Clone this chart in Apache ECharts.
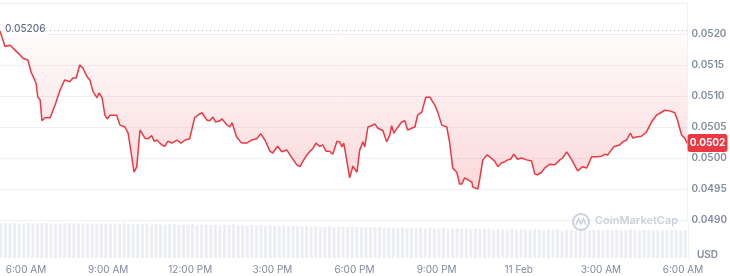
<!DOCTYPE html>
<html><head><meta charset="utf-8">
<script src="https://cdn.jsdelivr.net/npm/echarts@6/dist/echarts.min.js"></script>
<style>html,body{margin:0;padding:0;background:#fff}#c{width:730px;height:276px}</style>
</head><body><div id="c"></div>
<script>
// minutes since 00:00 on 10 Feb
const minutes = [303,314,325,336,347,353,364,371,375,382,386,391,395,402,413,424,435,445,456,463,470,478,485,494,500,507,516,520,527,533,538,544,559,566,577,584,592,597,603,610,614,621,627,636,641,647,658,665,671,680,691,700,709,719,730,737,746,750,757,763,770,776,785,790,801,807,812,822,833,844,855,866,875,884,895,901,912,921,932,939,954,961,967,976,983,989,996,1004,1011,1018,1026,1033,1042,1048,1053,1057,1064,1070,1077,1081,1086,1092,1099,1103,1110,1118,1125,1132,1143,1147,1151,1158,1162,1167,1171,1175,1184,1191,1197,1206,1213,1219,1228,1237,1246,1257,1263,1272,1283,1289,1296,1305,1311,1316,1322,1329,1338,1340,1351,1355,1362,1371,1377,1388,1395,1403,1410,1417,1423,1430,1438,1447,1458,1469,1476,1482,1491,1498,1509,1520,1531,1537,1546,1557,1563,1570,1581,1590,1601,1612,1623,1629,1636,1649,1662,1669,1677,1686,1691,1699,1710,1721,1732,1743,1752,1761,1772,1783,1789,1798,1805,1810];
const prices = [0.05205,0.05180,0.05182,0.05174,0.05166,0.05161,0.05158,0.05139,0.05137,0.05121,0.05098,0.05094,0.05060,0.05065,0.05065,0.05086,0.05110,0.05126,0.05123,0.05129,0.05129,0.05150,0.05145,0.05131,0.05126,0.05107,0.05097,0.05105,0.05097,0.05069,0.05063,0.05069,0.05069,0.05053,0.05050,0.05040,0.05002,0.04977,0.04986,0.05045,0.05047,0.05032,0.05031,0.05036,0.05027,0.05029,0.05021,0.05019,0.05027,0.05024,0.05029,0.05024,0.05029,0.05031,0.05065,0.05069,0.05073,0.05076,0.05061,0.05060,0.05066,0.05058,0.05060,0.05063,0.05053,0.05050,0.05057,0.05034,0.05024,0.05024,0.05029,0.05031,0.05039,0.05029,0.05011,0.05008,0.05019,0.05010,0.05013,0.05005,0.04989,0.04986,0.04994,0.05005,0.05011,0.05015,0.05024,0.05019,0.05021,0.05011,0.05011,0.05006,0.05027,0.05026,0.05018,0.05024,0.04994,0.04968,0.04987,0.04990,0.04977,0.05013,0.05026,0.05018,0.05050,0.05052,0.05055,0.05048,0.05044,0.05042,0.05026,0.05037,0.05052,0.05040,0.05045,0.05045,0.05058,0.05060,0.05045,0.05048,0.05050,0.05069,0.05074,0.05098,0.05098,0.05085,0.05074,0.05053,0.05050,0.05026,0.04984,0.04977,0.04958,0.04958,0.04968,0.04965,0.04961,0.04953,0.04950,0.04965,0.04997,0.05005,0.05002,0.04995,0.04986,0.04992,0.04994,0.04997,0.04998,0.05006,0.04998,0.05000,0.04997,0.04995,0.04974,0.04973,0.04977,0.04984,0.04990,0.04989,0.04997,0.05000,0.05010,0.04997,0.04989,0.04979,0.04986,0.04984,0.05002,0.05002,0.05003,0.05006,0.05005,0.05018,0.05021,0.05026,0.05029,0.05040,0.05032,0.05034,0.05035,0.05042,0.05058,0.05069,0.05073,0.05077,0.05076,0.05073,0.05061,0.05037,0.05032,0.05024];
const highValue = 0.05206;
const xTickMinutes = [360,540,720,900,1080,1260,1440,1620,1800];
const xTickLabels = ['6:00 AM','9:00 AM','12:00 PM','3:00 PM','6:00 PM','9:00 PM','11 Feb','3:00 AM','6:00 AM'];
const volumeStart = 305, volumeStep = 10;
const volumes = [99,100,98,100,99,97,100,99,98,99,100,98,97,99,98,100,99,98,97,99,98,97,99,98,96,98,97,99,97,96,
97,96,98,95,97,96,95,97,96,94,96,95,97,94,95,96,94,95,93,95,94,96,93,94,92,94,93,95,92,93,
92,91,93,90,92,91,90,92,89,91,90,89,91,88,90,89,88,90,89,87,89,88,87,89,86,88,87,86,88,85,
86,85,87,84,86,85,84,86,83,85,84,83,85,82,84,83,82,84,81,83,82,81,83,80,82,81,80,82,81,80,
81,80,82,79,81,80,79,81,80,79,81,80,78,80,79,80,78,79,81,79,78,80,79,78,80,79,78,79,80,78,79];

const lastPrice = prices[prices.length - 1];
const chart = echarts.init(document.getElementById('c'), null, {renderer: 'canvas'});
const labelColor = '#808a9d';
const gridColor = '#eff2f5';
const font = 'Inter, "Noto Sans", sans-serif';
const priceData = minutes.map((t, i) => [t, prices[i]]);

chart.setOption({
  animation: false,
  grid: [
    {left: 0, top: 3, width: 688, height: 217},
    {left: 0, top: 223, width: 688, height: 35}
  ],
  xAxis: [
    {gridIndex: 0, type: 'value', min: 303, max: 1811, show: false},
    {gridIndex: 1, type: 'value', min: 303, max: 1811,
     axisLine: {show: false}, axisTick: {show: false}, splitLine: {show: false},
     axisLabel: {customValues: xTickMinutes, margin: 7, color: labelColor, fontSize: 10, fontFamily: font,
       formatter: v => { const i = xTickMinutes.indexOf(Math.round(v)); return i >= 0 ? xTickLabels[i] : ''; }}}
  ],
  yAxis: [
    {gridIndex: 0, type: 'value', position: 'right', min: 0.0490, max: 0.0525, interval: 0.0005,
     axisLine: {show: true, lineStyle: {color: gridColor}}, axisTick: {show: false},
     splitLine: {lineStyle: {color: gridColor}},
     axisLabel: {margin: 4, color: labelColor, fontSize: 10, fontWeight: 600, fontFamily: font,
       formatter: v => v > 0.05201 ? '' : v.toFixed(4)}},
    {gridIndex: 1, type: 'value', position: 'right', min: 0, max: 100,
     axisLine: {show: true, lineStyle: {color: gridColor}}, axisTick: {show: false},
     axisLabel: {show: false}, splitLine: {show: false}}
  ],
  series: [
    {type: 'line', name: 'fill', xAxisIndex: 0, yAxisIndex: 0, z: 2, silent: true,
     data: priceData, symbol: 'none',
     lineStyle: {opacity: 0, width: 0},
     areaStyle: {origin: highValue, color: new echarts.graphic.LinearGradient(0, 0, 0, 1, [
       {offset: 0, color: 'rgba(234,57,67,0.02)'},
       {offset: 1, color: 'rgba(234,57,67,0.28)'}])}},
    {type: 'line', name: 'price', xAxisIndex: 0, yAxisIndex: 0, z: 4,
     data: priceData, symbol: 'none', smooth: false,
     lineStyle: {color: '#ea3943', width: 1.5}},
    {type: 'bar', name: 'volume', xAxisIndex: 1, yAxisIndex: 1, silent: true,
     data: volumes.map((v, i) => [volumeStart + i * volumeStep, v]),
     barWidth: 3, itemStyle: {color: '#eceef2'}}
  ]
});

const hy = chart.convertToPixel({yAxisIndex: 0}, highValue);
const py = chart.convertToPixel({yAxisIndex: 0}, lastPrice);
const rightX = chart.convertToPixel({xAxisIndex: 0}, 1811);
chart.setOption({
  graphic: [
    {type: 'line', shape: {x1: 38, y1: Math.round(hy) + 0.5, x2: rightX, y2: Math.round(hy) + 0.5}, z: 5, silent: true,
      style: {stroke: '#a7b1c2', lineWidth: 1, lineDash: [1, 3]}},
    {type: 'text', left: 3, top: hy - 7, z: 10, style: {text: highValue.toFixed(5), fill: '#616e85',
      font: '500 10px ' + font, backgroundColor: '#fff', padding: [1, 2]}},
    {type: 'rect', shape: {x: rightX, y: py - 9, width: 40, height: 18, r: 3}, z: 10,
      style: {fill: '#ea3943'}},
    {type: 'text', x: rightX + 20, y: py, z: 11, style: {text: lastPrice.toFixed(4), fill: '#fff',
      font: 'bold 10px ' + font, align: 'center', verticalAlign: 'middle'}},
    {type: 'circle', shape: {cx: 581, cy: 222, r: 8}, z: 10,
      style: {fill: 'none', stroke: '#cbd1db', lineWidth: 2}},
    {type: 'polyline', shape: {points: [[576, 225], [578.5, 219], [581, 224], [583.5, 219], [586, 225]]}, z: 10,
      style: {fill: 'none', stroke: '#cbd1db', lineWidth: 1.6}},
    {type: 'text', left: 595, top: 215, z: 10, style: {text: 'CoinMarketCap', fill: '#cbd1db',
      font: '600 11px ' + font}},
    {type: 'text', left: 697, top: 250, z: 10, style: {text: 'USD', fill: labelColor,
      font: '600 10px ' + font}}
  ]
});
</script></body></html>
